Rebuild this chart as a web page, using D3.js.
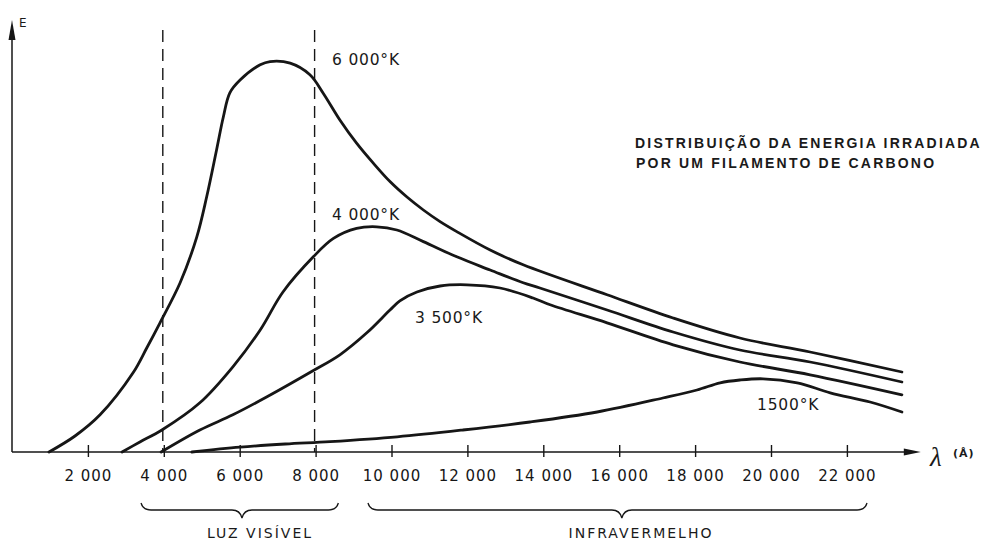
<!DOCTYPE html>
<html lang="pt">
<head>
  <meta charset="UTF-8">
  <title>Distribuição da energia irradiada</title>
  <script src="https://d3js.org/d3.v7.min.js"></script>
  <style>
    body { margin: 0; background: #fff; }
    text { fill: #1a1a1a; }
  </style>
</head>
<body>
  <script>
    // values (lambda in angstrom, E in arbitrary units)
    const temps = ["6 000°K", "4 000°K", "3 500°K", "1500°K"];

    const lambda6000 = [975, 1660, 2320, 3190, 3550, 3900, 4430, 4870, 5130, 5390, 5570, 5740, 6010, 6540, 6800, 7330, 7850, 8200, 8640, 9080, 9520, 9960, 10400, 10840, 11280, 11720, 12600, 13470, 15680, 17420, 19180, 21030, 23450];
    const e6000 = [0, 4, 9.3, 19.8, 26, 32.3, 42.3, 53.8, 63.8, 75.5, 83.8, 89.8, 93, 96.8, 97.6, 97.2, 94.3, 89.7, 83, 77.2, 72.2, 67.6, 63.8, 60.5, 57.6, 55.1, 50.5, 46.8, 39.3, 33.5, 28.5, 25, 20];

    const lambda4000 = [2900, 3370, 3950, 4950, 5820, 6540, 7140, 7940, 8470, 9080, 9610, 10140, 10840, 11720, 12600, 13470, 13910, 15680, 17420, 19180, 21030, 23450];
    const e4000 = [0, 2.5, 5.5, 12.3, 21.3, 30.5, 40, 48.8, 53.4, 55.9, 56.3, 55.5, 52.6, 48.8, 45.5, 42.3, 41, 35.5, 30, 25.5, 22.5, 17.5];

    const lambda3500 = [3930, 4950, 5820, 6720, 7930, 8640, 9350, 9960, 10220, 10670, 11280, 11990, 12860, 13730, 14180, 15680, 17420, 19180, 21030, 23450];
    const e3500 = [0, 5.5, 9.3, 13.8, 20.3, 24.3, 29.8, 35.5, 37.8, 40, 41.5, 41.8, 41, 38.5, 36.8, 32.3, 26.8, 22.5, 19.3, 14.3];

    const lambda1500 = [4740, 6010, 7200, 8380, 10150, 11880, 13650, 15420, 17150, 18050, 18660, 19180, 19790, 20690, 21560, 22610, 23450];
    const e1500 = [0, 1.2, 2, 2.6, 3.8, 5.5, 7.5, 10, 13.5, 15.5, 17.3, 18, 18.3, 17.3, 14.8, 12.5, 10];

    const tickValues = [2000, 4000, 6000, 8000, 10000, 12000, 14000, 16000, 18000, 20000, 22000];
    const visibleLimits = [4000, 8000];

    const braceNames = ["LUZ VISÍVEL", "INFRAVERMELHO"];
    const braceRanges = [[3400, 6060, 8600], [9380, 16070, 22530]];

    const width = 984;
    const height = 540;

    const svg = d3.select("body")
      .append("svg")
      .attr("width", width)
      .attr("height", height);

    const x = d3.scaleLinear().domain([0, 24000]).range([12, 922.8]);
    const y = d3.scaleLinear().domain([0, 108]).range([452, 20]);

    const ink = "#161616";

    // dashed limits of visible light
    svg.selectAll("line.limit")
      .data(visibleLimits)
      .enter()
      .append("line")
      .attr("class", "limit")
      .attr("x1", d => x(d) - 1)
      .attr("x2", d => x(d) - 1)
      .attr("y1", y(105.5))
      .attr("y2", y(0))
      .attr("stroke", ink)
      .attr("stroke-width", 1.4)
      .attr("stroke-dasharray", "12,7");

    // x axis
    const xAxis = d3.axisBottom(x)
      .tickValues(tickValues)
      .tickSize(5)
      .tickFormat(d => d3.format(",")(d).replace(",", " "));

    const gx = svg.append("g")
      .attr("transform", `translate(0,${y(0)})`)
      .call(xAxis);

    gx.select(".domain").remove();
    gx.selectAll(".tick line")
      .attr("y1", -7)
      .attr("stroke", ink)
      .attr("stroke-width", 1.4);
    gx.selectAll(".tick text")
      .attr("y", 29)
      .attr("dy", 0)
      .attr("font-family", "DejaVu Sans")
      .attr("font-size", 15)
      .attr("letter-spacing", 1)
      .style("fill", ink);

    svg.append("line")
      .attr("x1", x(0)).attr("x2", x(23550))
      .attr("y1", y(0)).attr("y2", y(0))
      .attr("stroke", ink)
      .attr("stroke-width", 1.5);

    svg.append("path")
      .attr("d", `M${x(23500)},${y(0) - 3.5}L${x(24000) - 2},${y(0)}L${x(23500)},${y(0) + 3.5}Z`)
      .attr("fill", ink);

    // y axis
    svg.append("line")
      .attr("x1", x(0)).attr("x2", x(0))
      .attr("y1", y(0)).attr("y2", y(103))
      .attr("stroke", ink)
      .attr("stroke-width", 1.5);

    svg.append("path")
      .attr("d", `M${x(0) - 3.5},${y(103)}L${x(0)},${y(108)}L${x(0) + 3.5},${y(103)}Z`)
      .attr("fill", ink);

    svg.append("text")
      .attr("x", 19)
      .attr("y", 27)
      .attr("font-family", "DejaVu Sans")
      .attr("font-size", 12)
      .text("E");

    svg.append("text")
      .attr("x", 930)
      .attr("y", 466)
      .attr("font-family", "Liberation Serif")
      .attr("font-style", "italic")
      .attr("font-size", 27)
      .text("λ");

    svg.append("text")
      .attr("x", 953)
      .attr("y", 457)
      .attr("font-family", "DejaVu Sans")
      .attr("font-weight", "bold")
      .attr("font-size", 11)
      .attr("letter-spacing", 1)
      .text("(Å)");

    // curves
    const series = [
      { lambda: lambda6000, e: e6000 },
      { lambda: lambda4000, e: e4000 },
      { lambda: lambda3500, e: e3500 },
      { lambda: lambda1500, e: e1500 }
    ];

    const line = d3.line()
      .x(d => x(d[0]))
      .y(d => y(d[1]))
      .curve(d3.curveCatmullRom.alpha(0.5));

    svg.selectAll("path.curve")
      .data(series)
      .enter()
      .append("path")
      .attr("class", "curve")
      .attr("d", s => line(s.lambda.map((l, i) => [l, s.e[i]])))
      .attr("fill", "none")
      .attr("stroke", ink)
      .attr("stroke-width", 2.8)
      .attr("stroke-linecap", "round");

    // curve labels
    const labelPos = [[332, 65], [332, 220], [415, 323], [757, 410]];
    svg.selectAll("text.temp")
      .data(temps)
      .enter()
      .append("text")
      .attr("class", "temp")
      .attr("x", (d, i) => labelPos[i][0])
      .attr("y", (d, i) => labelPos[i][1])
      .attr("font-family", "DejaVu Sans")
      .attr("font-size", 15.5)
      .attr("letter-spacing", 0.8)
      .text(d => d);

    // title
    const title = svg.append("text")
      .attr("font-family", "Liberation Sans")
      .attr("font-weight", "bold")
      .attr("font-size", 14)
      .attr("letter-spacing", 2.2);
    title.append("tspan").attr("x", 635).attr("y", 148).text("DISTRIBUIÇÃO DA ENERGIA IRRADIADA");
    title.append("tspan").attr("x", 636).attr("y", 168).text("POR UM FILAMENTO DE CARBONO");

    // braces under the axis
    function brace(r) {
      const a = x(r[0]), m = x(r[1]), b = x(r[2]);
      const top = 503, mid = 510, tip = 518;
      return `M${a},${top}Q${a + 2},${mid} ${a + 10},${mid}` +
        `L${m - 10},${mid}Q${m - 2},${mid} ${m},${tip}` +
        `Q${m + 2},${mid} ${m + 10},${mid}` +
        `L${b - 10},${mid}Q${b - 2},${mid} ${b},${top}`;
    }

    svg.selectAll("path.brace")
      .data(braceRanges)
      .enter()
      .append("path")
      .attr("class", "brace")
      .attr("d", brace)
      .attr("fill", "none")
      .attr("stroke", ink)
      .attr("stroke-width", 1.3);

    const braceText = [260, 641];
    svg.selectAll("text.brace")
      .data(braceNames)
      .enter()
      .append("text")
      .attr("class", "brace")
      .attr("x", (d, i) => braceText[i])
      .attr("y", 538)
      .attr("text-anchor", "middle")
      .attr("font-family", "DejaVu Sans")
      .attr("font-size", 14)
      .attr("letter-spacing", 2)
      .text(d => d);
  </script>
</body>
</html>
